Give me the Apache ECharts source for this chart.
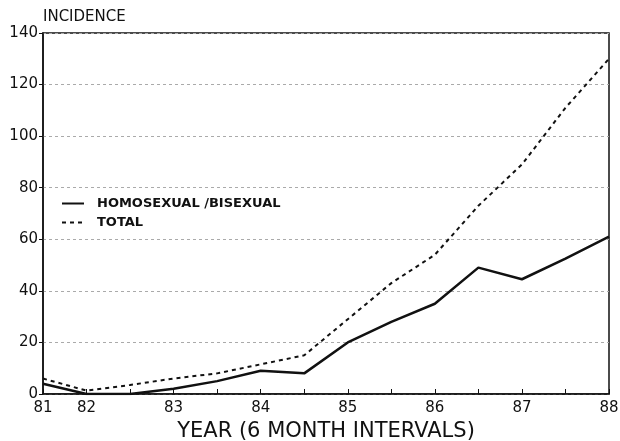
<!DOCTYPE html>
<html>
<head>
<meta charset="utf-8">
<script src="https://cdn.jsdelivr.net/npm/echarts@6/dist/echarts.min.js"></script>
<style>
  html, body { margin: 0; padding: 0; background: #fff; }
  #chart { width: 620px; height: 441px; }
</style>
</head>
<body>
<div id="chart"></div>
<script>
// 6-month steps; the first year gets a single step on the original axis
var periods = ['81', '82', '82.5', '83', '83.5', '84', '84.5', '85', '85.5', '86', '86.5', '87', '87.5', '88'];
var yearLabels = ['81', '82', '', '83', '', '84', '', '85', '', '86', '', '87', '', '88'];
var homoBi = [4, 0, 0, 2, 5, 9, 8, 20, 28, 35, 49, 44.5, 52.5, 61];
var total = [6, 1.3, 3.5, 6, 8, 11.5, 15, 29, 43, 54, 73, 89, 111, 130];

(function () {
    var myChart = echarts.init(document.getElementById('chart'));
    var font = '"DejaVu Sans", sans-serif';

    var option = {
        animation: false,
        backgroundColor: '#fff',
        grid: {
            left: 43,
            right: 11,
            top: 33,
            bottom: 47,
            outerBoundsMode: 'none',
            containLabel: false,
            show: true,
            borderColor: '#111',
            borderWidth: 1.5
        },
        legend: {
            orient: 'vertical',
            left: 56,
            top: 192,
            itemWidth: 22,
            itemHeight: 10,
            itemGap: 6,
            itemStyle: { opacity: 0 },
            textStyle: { fontFamily: font, fontSize: 13, fontWeight: 'bold', color: '#111', padding: [0, 0, 0, 8] },
            data: [
                { name: 'HOMOSEXUAL /BISEXUAL' },
                { name: 'TOTAL' }
            ]
        },
        xAxis: {
            type: 'category',
            boundaryGap: false,
            data: periods,
            name: 'YEAR (6 MONTH INTERVALS)',
            nameLocation: 'middle',
            nameGap: 25,
            nameTextStyle: { fontFamily: font, fontSize: 21, color: '#111' },
            axisLine: { lineStyle: { color: '#111', width: 1.5 } },
            axisTick: { inside: true, length: 5, interval: 0, lineStyle: { color: '#111' } },
            axisLabel: {
                interval: 0,
                fontFamily: font,
                fontSize: 15,
                color: '#111',
                margin: 7,
                formatter: function (v, i) { return yearLabels[i]; }
            },
            splitLine: { show: false }
        },
        yAxis: {
            type: 'value',
            min: 0,
            max: 140,
            interval: 20,
            name: 'INCIDENCE',
            nameLocation: 'end',
            nameGap: 8,
            nameTextStyle: { fontFamily: font, fontSize: 15, color: '#111', align: 'left' },
            axisLine: { show: true, lineStyle: { color: '#111', width: 1.5 } },
            axisTick: { show: true, length: 4, lineStyle: { color: '#111' } },
            axisLabel: { fontFamily: font, fontSize: 15, color: '#111', margin: 5 },
            splitLine: { show: true, lineStyle: { color: '#aaa', type: [3, 3], width: 1 } }
        },
        series: [
            {
                name: 'HOMOSEXUAL /BISEXUAL',
                type: 'line',
                data: homoBi,
                symbol: 'none',
                color: '#111',
                lineStyle: { color: '#111', width: 2.5 }
            },
            {
                name: 'TOTAL',
                type: 'line',
                data: total,
                symbol: 'none',
                color: '#111',
                lineStyle: { color: '#111', width: 2, type: [4, 4] }
            }
        ]
    };

    myChart.setOption(option);
    window.addEventListener('resize', function () {
        myChart.resize();
    });
})();
</script>
</body>
</html>
